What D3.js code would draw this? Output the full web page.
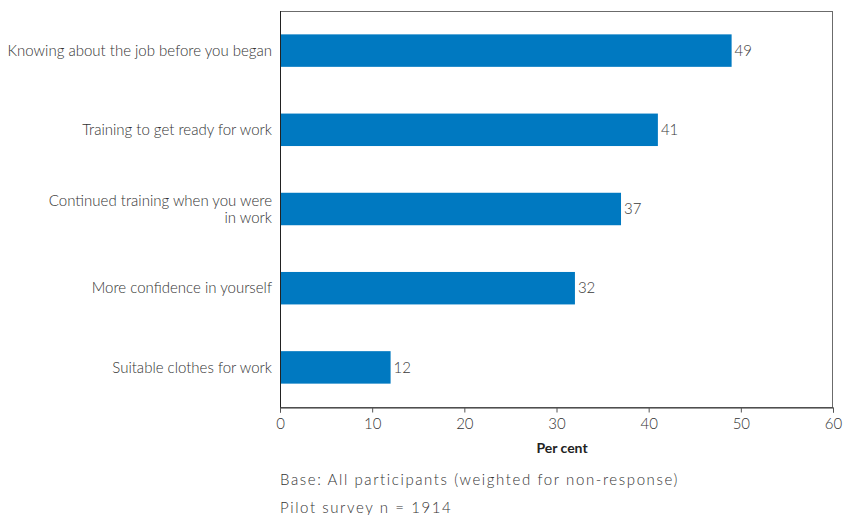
<!DOCTYPE html>
<html>
<head>
<meta charset="utf-8">
<script src="https://cdn.jsdelivr.net/npm/d3@7"></script>
<style>
  html, body { margin: 0; padding: 0; background: #fff; }
  svg { display: block; }
  text { font-family: Lato, "Open Sans", sans-serif; }
</style>
</head>
<body>
<svg id="chart" width="846" height="515"></svg>
<script>
// Share of participants citing each kind of help (per cent)
const categories = [
  "Knowing about the job before you began",
  "Training to get ready for work",
  "Continued training when you were in work",
  "More confidence in yourself",
  "Suitable clothes for work"
];
const values = [49, 41, 37, 32, 12];
const xTicks = [0, 10, 20, 30, 40, 50, 60];
const axisTitle = "Per cent";
const notes = [
  "Base: All participants (weighted for non-response)",
  "Pilot survey n = 1914"
];

const svg = d3.select("#chart");
const plotL = 280, plotR = 833, plotT = 11, plotB = 407;

const x = d3.scaleLinear().domain([0, 60]).range([plotL, plotR]);
const y = d3.scaleBand().domain(categories).range([plotT, plotB])
  .paddingInner(0.59).paddingOuter(0.295);

// frame
svg.append("rect")
  .attr("x", plotL + 0.5).attr("y", plotT + 0.5)
  .attr("width", plotR - plotL - 1).attr("height", plotB - plotT)
  .attr("fill", "none").attr("stroke", "#6b6b6b").attr("stroke-width", 1);

// bars
svg.selectAll("rect.bar").data(values).join("rect")
  .attr("class", "bar")
  .attr("x", x(0))
  .attr("y", (d, i) => y(categories[i]))
  .attr("width", d => x(d) - x(0))
  .attr("height", y.bandwidth())
  .attr("fill", "#0079c1");

// value labels
svg.selectAll("text.val").data(values).join("text")
  .attr("class", "val")
  .attr("x", d => x(d) + 3)
  .attr("y", (d, i) => y(categories[i]) + y.bandwidth() / 2)
  .attr("dy", "0.35em")
  .attr("font-size", 15).attr("font-weight", 300)
  .attr("fill", "#3a3a3a")
  .text(d => d);

// category labels (wrapped where the label is long)
const wraps = {
  "Continued training when you were in work": ["Continued training when you were", "in work"]
};
categories.forEach(c => {
  const lines = wraps[c] || [c];
  const cy = y(c) + y.bandwidth() / 2;
  const t = svg.append("text")
    .attr("x", 272).attr("text-anchor", "end")
    .attr("font-size", 15).attr("font-weight", 300)
    .attr("fill", "#333");
  lines.forEach((ln, k) => {
    t.append("tspan")
      .attr("x", 272)
      .attr("y", cy + (k - (lines.length - 1) / 2) * 17)
      .attr("dy", "0.35em")
      .text(ln);
  });
});

// left axis line
svg.append("line")
  .attr("x1", plotL + 0.5).attr("x2", plotL + 0.5)
  .attr("y1", plotT).attr("y2", plotB + 1)
  .attr("stroke", "#222");

// bottom axis
const xAxis = svg.append("g")
  .attr("transform", `translate(0,${plotB + 0.5})`)
  .call(d3.axisBottom(x).tickValues(xTicks).tickSize(5).tickPadding(6).tickFormat(d3.format("d")));
xAxis.select(".domain").attr("stroke", "#333");
xAxis.selectAll(".tick line").attr("stroke", "#555");
xAxis.selectAll("text")
  .attr("font-family", "Lato, 'Open Sans', sans-serif")
  .attr("font-size", 15).attr("font-weight", 300).attr("fill", "#333");

svg.append("text")
  .attr("x", 562).attr("y", 453)
  .attr("text-anchor", "middle")
  .attr("font-size", 14).attr("font-weight", 700).attr("fill", "#222")
  .text(axisTitle);

svg.selectAll("text.note").data(notes).join("text")
  .attr("class", "note")
  .attr("x", 280)
  .attr("y", (d, i) => 485 + i * 28)
  .attr("font-size", 15).attr("font-weight", 300)
  .attr("letter-spacing", 1.6)
  .attr("fill", "#333")
  .text(d => d);
</script>
</body>
</html>
